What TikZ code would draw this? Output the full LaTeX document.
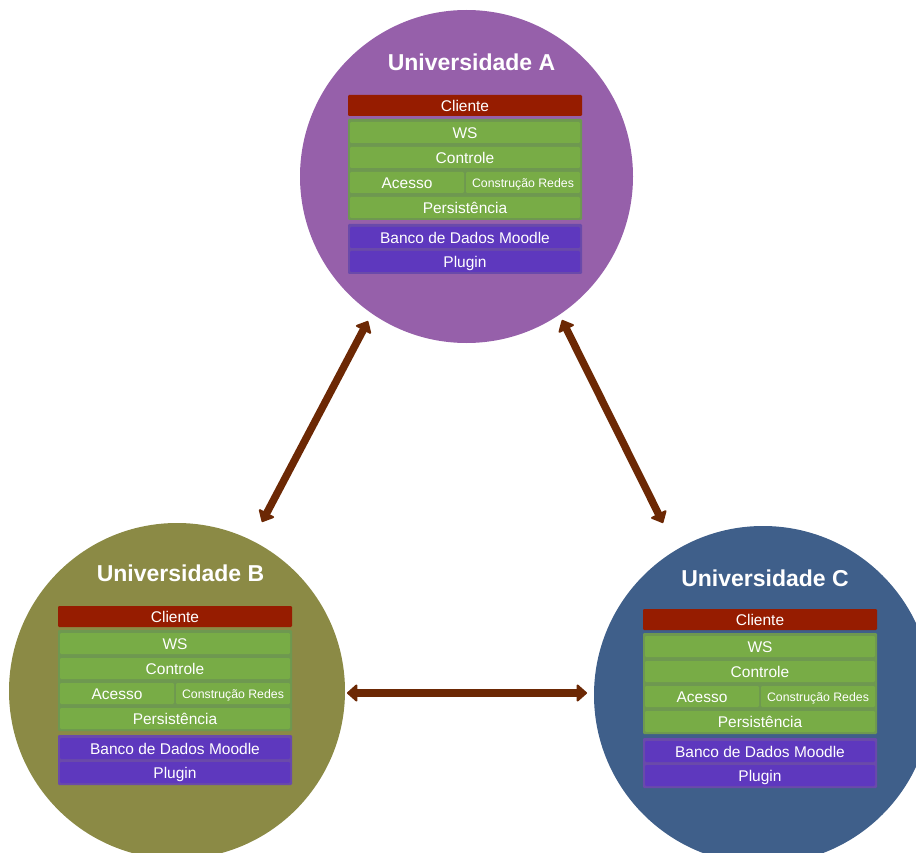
\documentclass[tikz,border=0pt]{standalone}
\usepackage{fontspec}
\setmainfont{Liberation Sans}
\usetikzlibrary{arrows.meta,calc}
\definecolor{circA}{RGB}{150,96,170}
\definecolor{circB}{RGB}{139,138,69}
\definecolor{circC}{RGB}{63,95,138}
\definecolor{clired}{RGB}{150,28,0}
\definecolor{greenrow}{RGB}{120,172,70}
\definecolor{greenpanel}{RGB}{110,152,80}
\definecolor{purplerow}{RGB}{94,56,190}
\definecolor{purplepanel}{RGB}{106,74,170}
\definecolor{arrowc}{RGB}{108,40,4}
\tikzset{
  uni/.style={circle, inner sep=0pt, outer sep=0pt, minimum size=#1},
  unititle/.style={text=white, inner sep=0pt, font=\fontsize{23}{26}\selectfont\bfseries},
  box/.style={anchor=north west, inner sep=0pt, outer sep=0pt, rounded corners=1.2pt,
    text=white, font=\fontsize{15.5}{18}\selectfont, minimum height=21pt,
    text height=13pt, text depth=1.9pt},
  smalltext/.style={font=\fontsize{12.3}{14}\selectfont, text height=11.6pt, text depth=1.6pt},
  clibar/.style={box, fill=clired, minimum width=234pt},
  gpanel/.style={box, fill=greenpanel, minimum width=234pt, minimum height=101pt},
  ppanel/.style={box, fill=purplepanel, minimum width=234pt, minimum height=50pt},
  grow/.style={box, fill=greenrow, minimum width=#1},
  prow/.style={box, fill=purplerow, minimum width=230pt},
  tipend/.tip={Triangle[width=19pt,length=11pt,round,line width=2pt]},
  link/.style={draw=arrowc, line width=7.5pt, tipend-tipend}
}
\newcommand\unistack[3]{%
  \begin{scope}[shift={(#2,#3)}]
    \node[clibar] (#1cli) at (0,0) {Cliente};
    \node[gpanel] (#1gp) at (0,24) {};
    \node[grow=230pt] (#1ws) at (2,27) {WS};
    \node[grow=230pt] (#1ctl) at (2,52) {Controle};
    \node[grow=114pt] (#1ac) at (2,77) {Acesso};
    \node[grow=114pt, smalltext] (#1cr) at (118,77) {Construção Redes};
    \node[grow=230pt] (#1per) at (2,102) {Persistência};
    \node[ppanel] (#1pp) at (0,129) {};
    \node[prow] (#1bd) at (2,132) {Banco de Dados Moodle};
    \node[prow] (#1pl) at (2,156) {Plugin};
  \end{scope}}
\begin{document}
\begin{tikzpicture}[x=1pt,y=-1pt]
  \useasboundingbox (0,0) rectangle (916,853);
  \clip (0,0) rectangle (916,853);
  \node[uni=333pt, fill=circA] (A) at (466.5,176.5) {};
  \node[uni=336pt, fill=circB] (B) at (177,691) {};
  \node[uni=338pt, fill=circC] (C) at (763,695) {};
  \node[unititle] (tA) at (471.5,62) {Universidade A};
  \node[unititle] (tB) at (180.5,573) {Universidade B};
  \node[unititle] (tC) at (765,578) {Universidade C};
  \unistack{a}{348}{95}
  \unistack{b}{58}{606}
  \unistack{c}{643}{609}
  \coordinate (abA) at ($(A)+(-98.5,144.5)$);
  \coordinate (abB) at ($(B)+(85,-169)$);
  \coordinate (acA) at ($(A)+(95.5,143.5)$);
  \coordinate (acC) at ($(C)+(-100,-172)$);
  \coordinate (bcB) at ($(B)+(170,2)$);
  \coordinate (bcC) at ($(C)+(-176,-2)$);
  \draw[link] (abA) -- (abB);
  \draw[link] (acA) -- (acC);
  \draw[link] (bcB) -- (bcC);
\end{tikzpicture}
\end{document}
